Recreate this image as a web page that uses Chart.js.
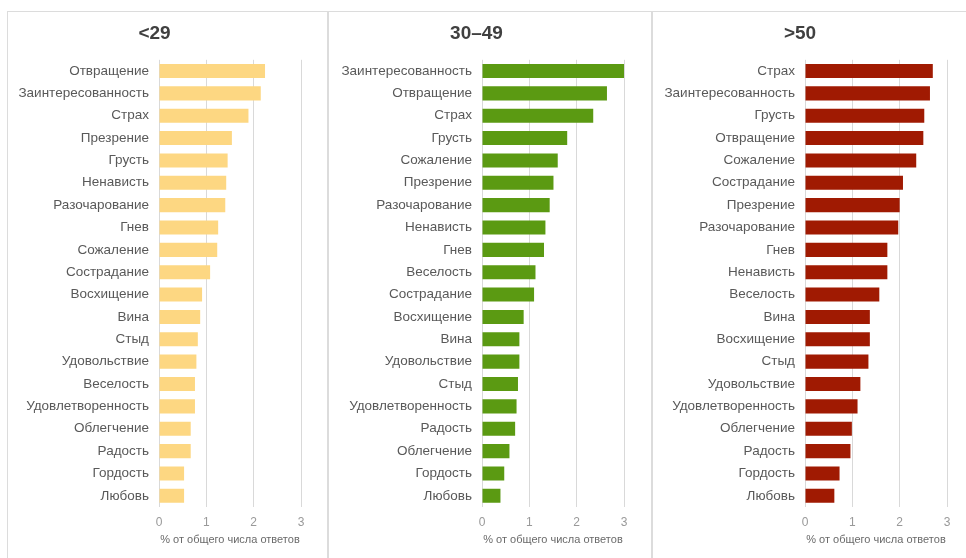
<!DOCTYPE html>
<html>
<head>
<meta charset="utf-8">
<script src="https://cdn.jsdelivr.net/npm/chart.js@4"></script>
<style>
  html, body { margin: 0; padding: 0; background: #fff; }
  body { width: 966px; height: 558px; position: relative; overflow: hidden; }
  .panel { position: absolute; top: 12px; height: 546px; }
  .rule { position: absolute; background: #dcdcdc; }
</style>
</head>
<body>
<div class="rule" style="left:7px; top:11px; width:959px; height:1px;"></div>
<div class="rule" style="left:7px; top:11px; width:1px; height:547px;"></div>
<div class="rule" style="left:327px; top:11px; width:2px; height:547px;"></div>
<div class="rule" style="left:651px; top:11px; width:2px; height:547px;"></div>

<div class="panel" style="left:8px; width:319px;"><canvas id="c1"></canvas></div>
<div class="panel" style="left:329px; width:322px;"><canvas id="c2"></canvas></div>
<div class="panel" style="left:653px; width:313px;"><canvas id="c3"></canvas></div>

<script>
// age group <29
const labels29 = ['Отвращение', 'Заинтересованность', 'Страх', 'Презрение', 'Грусть', 'Ненависть',
  'Разочарование', 'Гнев', 'Сожаление', 'Сострадание', 'Восхищение', 'Вина', 'Стыд', 'Удовольствие',
  'Веселость', 'Удовлетворенность', 'Облегчение', 'Радость', 'Гордость', 'Любовь'];
const values29 = [2.24, 2.15, 1.89, 1.54, 1.45, 1.42, 1.40, 1.25, 1.23, 1.08, 0.91, 0.87, 0.82, 0.79,
  0.76, 0.76, 0.67, 0.67, 0.53, 0.53];

// age group 30-49
const labels3049 = ['Заинтересованность', 'Отвращение', 'Страх', 'Грусть', 'Сожаление', 'Презрение',
  'Разочарование', 'Ненависть', 'Гнев', 'Веселость', 'Сострадание', 'Восхищение', 'Вина', 'Удовольствие',
  'Стыд', 'Удовлетворенность', 'Радость', 'Облегчение', 'Гордость', 'Любовь'];
const values3049 = [3.15, 2.64, 2.35, 1.80, 1.60, 1.51, 1.43, 1.34, 1.31, 1.13, 1.10, 0.88, 0.79, 0.79,
  0.76, 0.73, 0.70, 0.58, 0.47, 0.39];

// age group >50
const labels50 = ['Страх', 'Заинтересованность', 'Грусть', 'Отвращение', 'Сожаление', 'Сострадание',
  'Презрение', 'Разочарование', 'Гнев', 'Ненависть', 'Веселость', 'Вина', 'Восхищение', 'Стыд',
  'Удовольствие', 'Удовлетворенность', 'Облегчение', 'Радость', 'Гордость', 'Любовь'];
const values50 = [2.70, 2.64, 2.52, 2.50, 2.35, 2.07, 2.00, 1.97, 1.74, 1.74, 1.57, 1.37, 1.37, 1.34,
  1.17, 1.11, 0.99, 0.96, 0.73, 0.62];

const xTicks = [0, 1, 2, 3];
const axisTitle = '% от общего числа ответов';

Chart.defaults.font.family = '"Liberation Sans", Arial, sans-serif';

function makeChart(id, title, labels, values, color, yWidth, rightPad) {
  const ctx = document.getElementById(id).getContext('2d');
  return new Chart(ctx, {
    type: 'bar',
    data: {
      labels: labels,
      datasets: [{
        data: values,
        backgroundColor: color,
        borderWidth: 0,
        barPercentage: 0.63,
        categoryPercentage: 1.0,
      }],
    },
    options: {
      indexAxis: 'y',
      responsive: true,
      maintainAspectRatio: false,
      animation: false,
      layout: { padding: { left: 0, right: rightPad, top: 0, bottom: 0 } },
      plugins: {
        legend: { display: false },
        tooltip: { enabled: false },
        title: {
          display: true,
          text: title,
          color: '#404040',
          font: { size: 19, weight: 'bold' },
          padding: { top: 10, bottom: 15 },
        },
      },
      scales: {
        x: {
          min: 0,
          max: 3,
          afterBuildTicks: (scale) => { scale.ticks = xTicks.map(v => ({ value: v })); },
          afterFit: (scale) => { scale.height = 51; },
          grid: { color: '#d9d9d9', drawTicks: false },
          border: { display: false },
          ticks: { color: '#999999', font: { size: 12 }, padding: 8 },
          title: {
            display: true,
            text: axisTitle,
            color: '#6a6a6a',
            font: { size: 11 },
            padding: { top: 0, bottom: 11 },
          },
        },
        y: {
          afterFit: (scale) => { scale.width = yWidth; },
          grid: { display: false, drawTicks: false },
          border: { display: false },
          ticks: { color: '#595959', font: { size: 13.5 }, padding: 10, autoSkip: false },
        },
      },
    },
  });
}

makeChart('c1', '<29', labels29, values29, '#fdd782', 151, 26);
makeChart('c2', '30–49', labels3049, values3049, '#5b9a12', 153, 27);
makeChart('c3', '>50', labels50, values50, '#a01a02', 152, 19);
</script>
</body>
</html>
